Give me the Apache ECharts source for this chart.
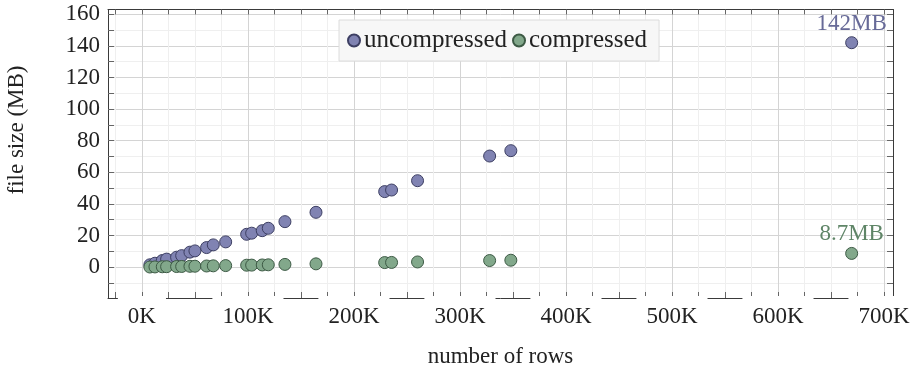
<!DOCTYPE html>
<html><head><meta charset="utf-8">
<script src="https://cdn.jsdelivr.net/npm/echarts@6/dist/echarts.min.js"></script>
<style>html,body{margin:0;padding:0;background:#fff}#c{width:914px;height:368px}</style>
</head><body><div id="c"></div>
<script>
// ---- data ----
const rows = [7500, 12300, 19200, 23300, 32700, 37500, 45300, 50000, 61000, 67300, 79000, 98800, 103500, 113500, 119200, 134900, 164200, 229000, 235500, 260000, 328000, 348000, 669500];
const uncompressedMB = [1.5, 2.5, 4.2, 5.1, 6.3, 7.3, 9.5, 10.3, 12.4, 14.1, 16.0, 20.8, 21.5, 23.1, 24.6, 28.8, 34.7, 47.8, 48.8, 54.7, 70.3, 73.7, 142];
const compressedMB = [0.1, 0.15, 0.25, 0.3, 0.4, 0.45, 0.55, 0.6, 0.75, 0.85, 1.0, 1.25, 1.3, 1.4, 1.5, 1.75, 2.1, 2.9, 3.0, 3.3, 4.2, 4.4, 8.7];
const seriesNames = ['uncompressed', 'compressed'];
const lastLabels = ['142MB', '8.7MB'];
const xTickValues = [-25000,0,25000,50000,75000,100000,125000,150000,175000,200000,225000,250000,275000,300000,325000,350000,375000,400000,425000,450000,475000,500000,525000,550000,575000,600000,625000,650000,675000,700000];
const xLabelValues = [0,100000,200000,300000,400000,500000,600000,700000];
const yTickValues = [-10,0,10,20,30,40,50,60,70,80,90,100,110,120,130,140,150,160];
const yLabelValues = [0,20,40,60,80,100,120,140,160];
const xTitle = 'number of rows';
const yTitle = 'file size (MB)';

// ---- style ----
const FONT = 'Liberation Serif';
const X_MIN = -32000, X_MAX = 708500, Y_MIN = -19.5, Y_MAX = 163;
const fills = ['#8083b2', '#82a88b'];
const borders = ['#3d3f63', '#3d5a45'];
const labelColors = ['#676a98', '#5f8567'];
const AX = '#3a3a3a', TK = '#666';

function mkData(ys, i) {
  return rows.map((r, k) => {
    const item = { value: [r, ys[k]] };
    if (k === rows.length - 1) {
      item.label = { show: true, formatter: lastLabels[i], position: 'top', distance: 1,
        fontFamily: FONT, fontSize: 23, color: labelColors[i] };
    }
    return item;
  });
}

const chart = echarts.init(document.getElementById('c'), null, { renderer: 'canvas' });
const common = { type: 'value', min: X_MIN, max: X_MAX };
const commonY = { type: 'value', min: Y_MIN, max: Y_MAX };
chart.setOption({
  animation: false,
  backgroundColor: '#fff',
  grid: { left: 108, right: 21, top: 9.5, bottom: 70, containLabel: false, outerBoundsMode: 'none' },
  legend: {
    left: 339, top: 20, padding: [8, 12, 8, 8], itemGap: 5, itemWidth: 12, itemHeight: 12,
    backgroundColor: '#f7f7f7', borderColor: '#dcdcdc', borderWidth: 1,
    icon: 'circle',
    textStyle: { fontFamily: FONT, fontSize: 25, color: '#222', padding: [0, 0, 0, -1] },
    data: seriesNames
  },
  graphic: [{
    type: 'text', x: 17, y: 130, rotation: Math.PI / 2,
    style: { text: yTitle, fontFamily: FONT, fontSize: 23, fill: '#222', align: 'center', verticalAlign: 'middle' }
  }],
  xAxis: [
    Object.assign({}, common, {
      position: 'bottom',
      name: xTitle, nameLocation: 'middle', nameGap: 47,
      nameTextStyle: { fontFamily: FONT, fontSize: 23, color: '#222' },
      axisLine: { show: true, onZero: false, lineStyle: { color: AX, width: 1 } },
      axisTick: { show: true, inside: true, length: 6, customValues: xTickValues, lineStyle: { color: TK } },
      axisLabel: { customValues: xLabelValues, formatter: v => (v / 1000) + 'K',
        fontFamily: FONT, fontSize: 23, color: '#222', backgroundColor: '#fff',
        padding: [9, 10, 1, 10], margin: -2, lineHeight: 24 },
      splitLine: { show: true, lineStyle: { color: '#efefef', width: 1 } }
    }),
    Object.assign({}, common, {
      position: 'top',
      axisLine: { show: true, onZero: false, lineStyle: { color: AX, width: 1 } },
      axisTick: { show: true, inside: true, length: 5, customValues: xTickValues, lineStyle: { color: TK } },
      axisLabel: { show: false },
      splitLine: { show: false }
    }),
    Object.assign({}, common, {
      position: 'bottom',
      axisLine: { show: false, onZero: false },
      axisTick: { show: false, customValues: xLabelValues },
      axisLabel: { show: false },
      splitLine: { show: true, lineStyle: { color: '#d4d4d4', width: 1 } }
    })
  ],
  yAxis: [
    Object.assign({}, commonY, {
      position: 'left',
      axisLine: { show: true, onZero: false, lineStyle: { color: AX, width: 1 } },
      axisTick: { show: true, inside: true, length: 6, customValues: yTickValues, lineStyle: { color: TK } },
      axisLabel: { customValues: yLabelValues, fontFamily: FONT, fontSize: 23, color: '#222', margin: 8 },
      splitLine: { show: true, lineStyle: { color: '#efefef', width: 1 } }
    }),
    Object.assign({}, commonY, {
      position: 'right',
      axisLine: { show: true, onZero: false, lineStyle: { color: AX, width: 1 } },
      axisTick: { show: true, inside: true, length: 6, customValues: yTickValues, lineStyle: { color: TK } },
      axisLabel: { show: false },
      splitLine: { show: false }
    }),
    Object.assign({}, commonY, {
      position: 'left',
      axisLine: { show: false, onZero: false },
      axisTick: { show: false, customValues: yLabelValues },
      axisLabel: { show: false },
      splitLine: { show: true, lineStyle: { color: '#d4d4d4', width: 1 } }
    })
  ],
  series: [uncompressedMB, compressedMB].map((ys, i) => ({
    name: seriesNames[i], type: 'scatter', xAxisIndex: 0, yAxisIndex: 0,
    symbol: 'circle', symbolSize: 12,
    itemStyle: { color: fills[i], borderColor: borders[i], borderWidth: 1, opacity: 1 },
    emphasis: { disabled: true },
    data: mkData(ys, i),
    z: 5
  }))
});
</script>
</body></html>
